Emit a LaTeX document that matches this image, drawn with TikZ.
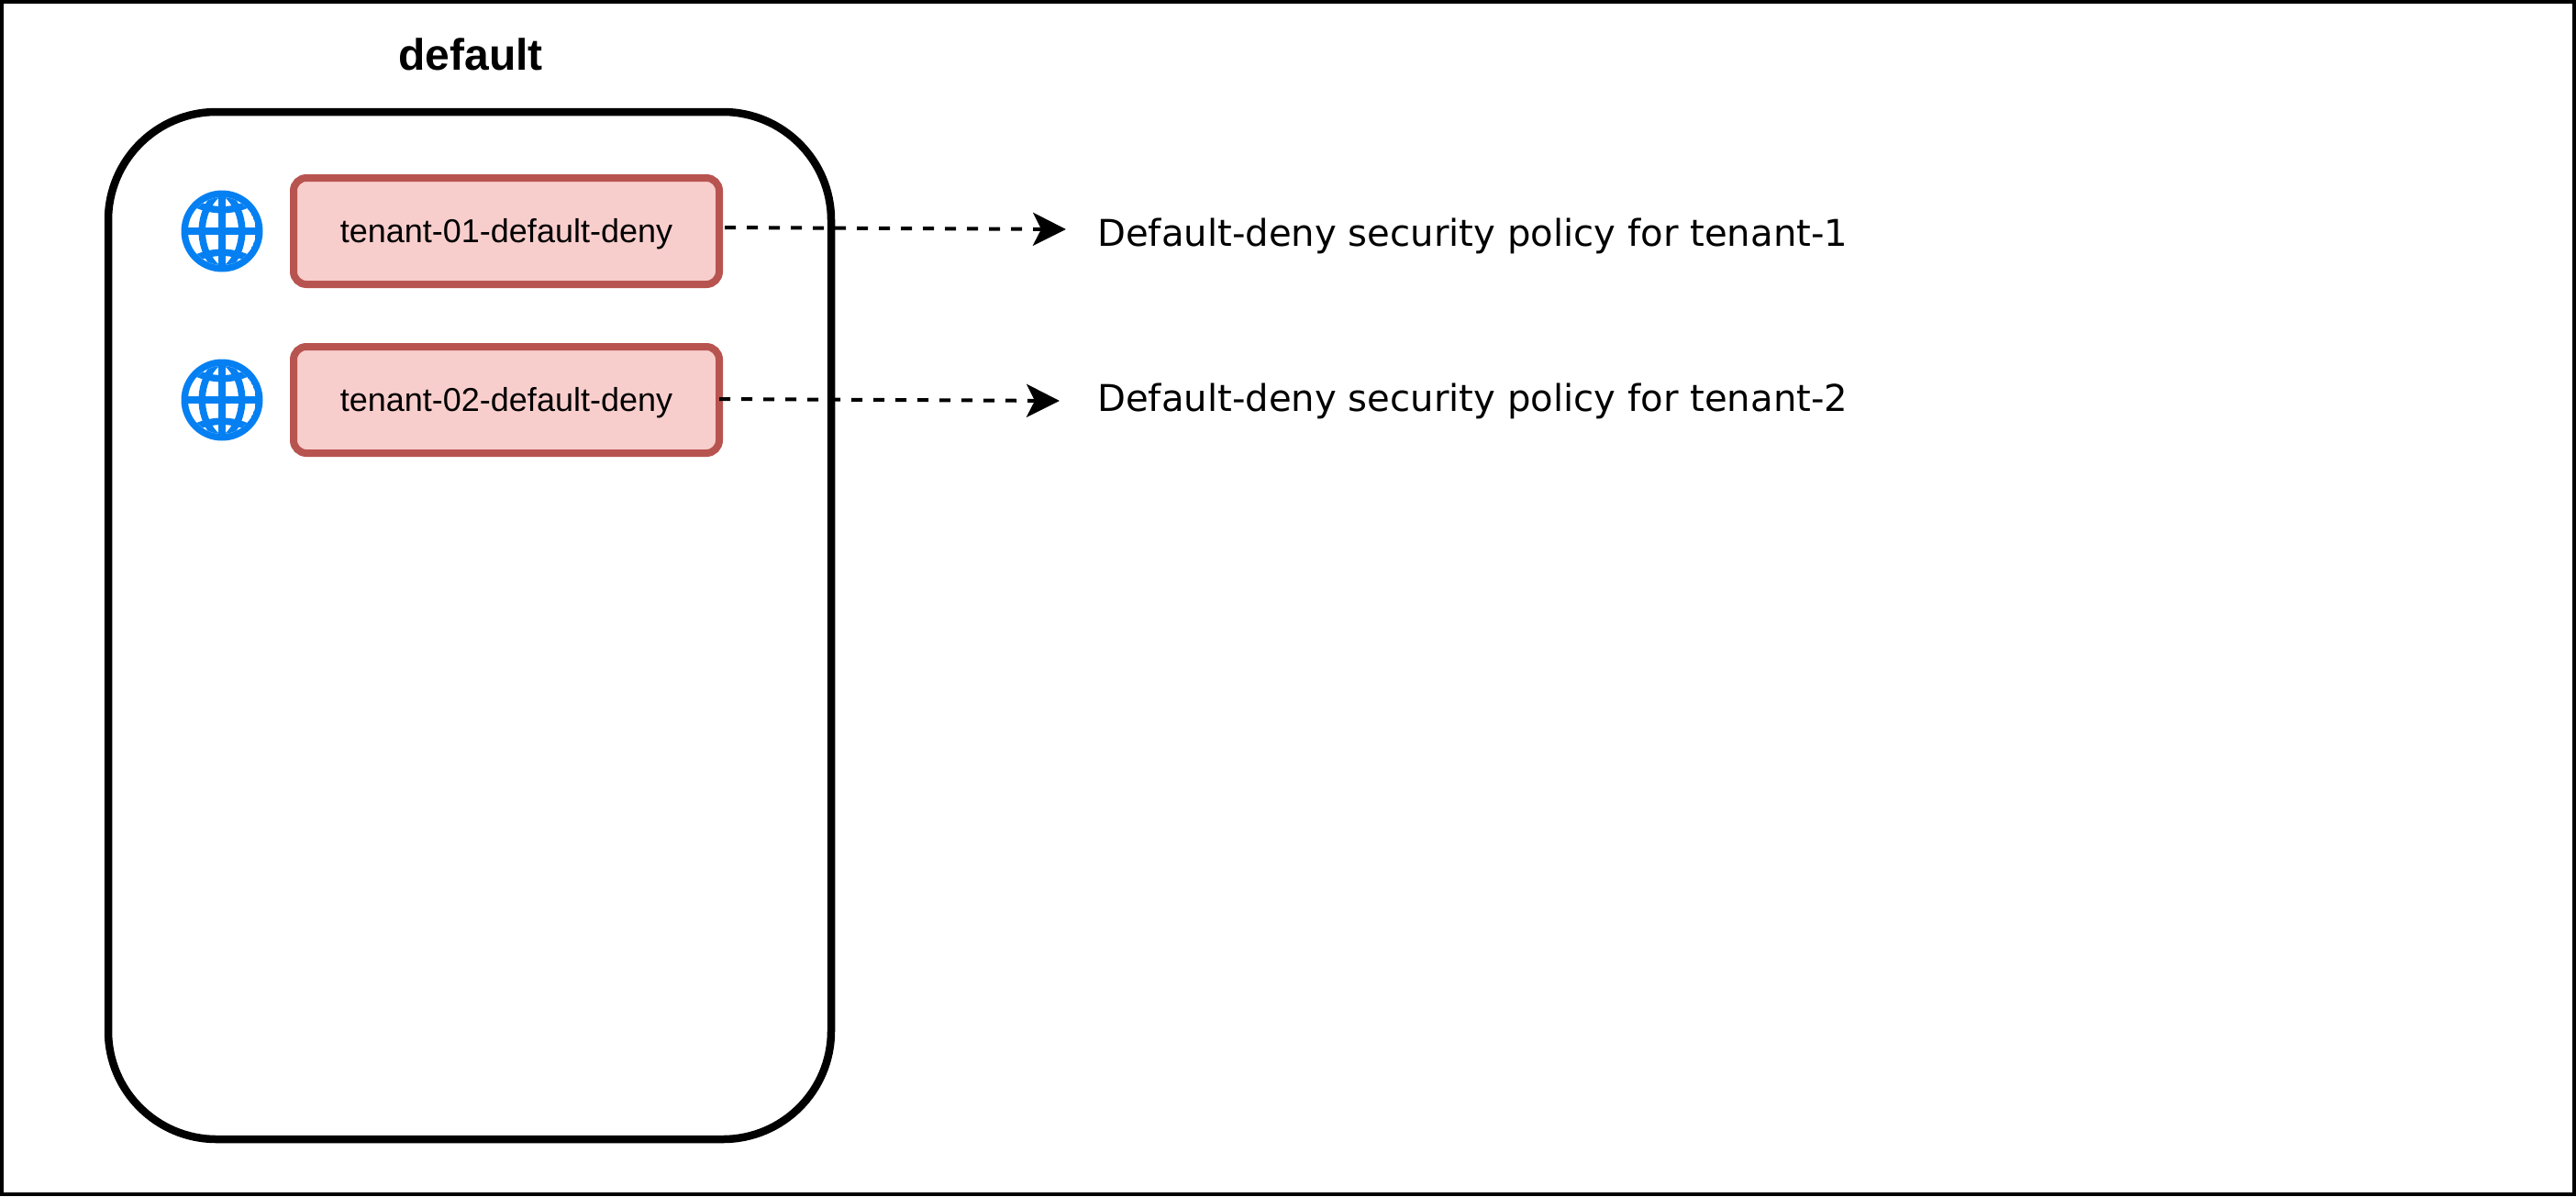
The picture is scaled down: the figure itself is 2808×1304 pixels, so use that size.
\documentclass[tikz,border=0pt]{standalone}
\usepackage{fontspec}
\setmainfont{Liberation Sans}
\newfontfamily\dejavu{DejaVu Sans}
\usetikzlibrary{arrows.meta}
\definecolor{redfill}{HTML}{F8CECC}
\definecolor{redline}{HTML}{B85450}
\definecolor{globeblue}{HTML}{0580F2}
\tikzset{
  x=1pt,y=-1pt,
  policy/.style={draw=redline,fill=redfill,line width=8pt,rounded corners=14pt,minimum width=464pt,minimum height=116pt,inner sep=0pt,outer sep=0pt,font=\fontsize{36}{43}\selectfont},
  note/.style={anchor=base west,inner sep=0pt,font=\dejavu\fontsize{40.2}{48}\selectfont},
  flow/.style={line width=4pt,dash pattern=on 12pt off 12pt,-{Stealth[length=36pt,width=36pt,inset=9pt]}},
  globering/.style={draw=globeblue,line width=7.5pt},
  title/.style={anchor=base,inner sep=0pt,font=\bfseries\fontsize{48}{56}\selectfont},
}
\newcommand{\globeicon}[2]{%
  \begin{scope}[shift={(#1,#2)}]
    \fill[globeblue] (0,0) circle (44.5);
    \begin{scope}
      \clip (0,0) circle (37);
      \fill[white] (0,0) circle (37);
      \draw[globering] (0,-44) -- (0,44);
      \draw[globering] (-44,0) -- (44,0);
      \draw[globering] (0,-44) .. controls (-29,-25) and (-29,25) .. (0,44);
      \draw[globering] (0,-44) .. controls (29,-25) and (29,25) .. (0,44);
      \draw[globering] (-36,-33) .. controls (-12,-20) and (12,-20) .. (36,-33);
      \draw[globering] (-36,33) .. controls (-12,20) and (12,20) .. (36,33);
    \end{scope}
  \end{scope}}
\begin{document}
\begin{tikzpicture}
\useasboundingbox (0,0) rectangle (2808,1304);
\fill[white] (0,0) rectangle (2808,1304);
\draw[line width=4.5pt] (2,2) rectangle (2806,1302);
\draw[line width=8.5pt,rounded corners=118pt] (118,122) rectangle (906,1242);
\node[title] (ttl) at (513,76) {default};
\globeicon{242}{252}
\globeicon{242}{436}
\node[policy] (p1) at (552,252) {\raisebox{-12pt}[0pt][0pt]{tenant-01-default-deny}};
\node[policy] (p2) at (552,436) {\raisebox{-12pt}[0pt][0pt]{tenant-02-default-deny}};
\node[note] (n1) at (1196,268) {Default-deny security policy for tenant-1};
\node[note] (n2) at (1196,448) {Default-deny security policy for tenant-2};
\coordinate (e1) at (1162,250);
\coordinate (e2) at (1155,437);
\draw[flow] ([xshift=6pt,yshift=4pt]p1.east) -- (e1);
\draw[flow] ([yshift=1pt]p2.east) -- (e2);
\end{tikzpicture}
\end{document}
